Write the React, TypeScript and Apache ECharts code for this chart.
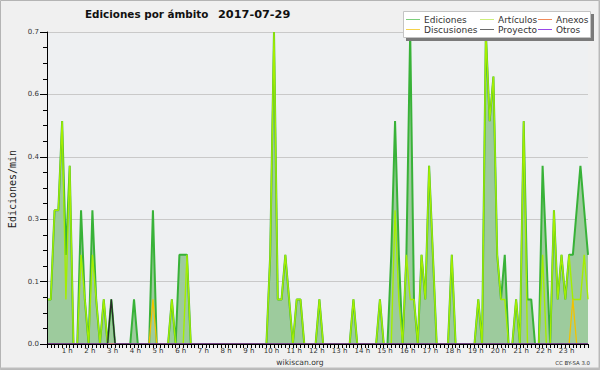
import React, { useEffect, useRef } from "react";
import * as echarts from "echarts";

// 10-minute bins, 00:00 .. 23:50
const times: string[] = Array.from({ length: 144 }, (_, i) =>
  `${String(Math.floor(i / 6)).padStart(2, "0")}:${String((i % 6) * 10).padStart(2, "0")}`
);

const yTicks = [0, 0.14, 0.28, 0.42, 0.56, 0.7];

// Ediciones/min per 10-minute bin (one row = 4 hours)
const ediciones = [
  0.1, 0.1, 0.3, 0.3, 0.5, 0.2, 0.4, 0, 0, 0.3, 0.1, 0, 0.3, 0.1, 0, 0.1, 0, 0.1, 0, 0, 0, 0, 0, 0.1,
  0, 0, 0, 0, 0.3, 0, 0, 0, 0, 0.1, 0, 0.2, 0.2, 0.2, 0, 0, 0, 0, 0, 0, 0, 0, 0, 0,
  0, 0, 0, 0, 0, 0, 0, 0, 0, 0, 0, 0.2, 0.7, 0.1, 0.1, 0.2, 0.1, 0, 0.1, 0.1, 0, 0, 0, 0,
  0.1, 0, 0, 0, 0, 0, 0, 0, 0, 0.1, 0, 0, 0, 0, 0, 0, 0.1, 0, 0, 0.2, 0.5, 0.2, 0, 0.2,
  0.7, 0.1, 0, 0.2, 0.1, 0.4, 0.2, 0, 0, 0, 0, 0.2, 0, 0, 0, 0, 0, 0, 0.1, 0, 0.7, 0.5, 0.6, 0.2,
  0.1, 0.2, 0, 0, 0.1, 0, 0.5, 0.1, 0.1, 0, 0, 0.4, 0.2, 0, 0.3, 0.1, 0.2, 0.1, 0.2, 0.2, 0.3, 0.4, 0.3, 0.2,
];

const articulos = [
  0.1, 0.1, 0.3, 0.3, 0.5, 0.1, 0.4, 0, 0, 0.2, 0.1, 0, 0.2, 0.1, 0, 0.1, 0, 0, 0, 0, 0, 0, 0, 0,
  0, 0, 0, 0, 0, 0, 0, 0, 0, 0.1, 0, 0, 0, 0.2, 0, 0, 0, 0, 0, 0, 0, 0, 0, 0,
  0, 0, 0, 0, 0, 0, 0, 0, 0, 0, 0, 0.2, 0.7, 0.1, 0.1, 0.2, 0.1, 0, 0.1, 0.1, 0, 0, 0, 0,
  0.1, 0, 0, 0, 0, 0, 0, 0, 0, 0.1, 0, 0, 0, 0, 0, 0, 0.1, 0, 0, 0, 0.3, 0.1, 0, 0.2,
  0.1, 0.1, 0, 0.2, 0.1, 0.4, 0.2, 0, 0, 0, 0, 0.2, 0, 0, 0, 0, 0, 0, 0.1, 0, 0.7, 0.5, 0.6, 0.2,
  0.1, 0.1, 0, 0, 0.1, 0, 0.5, 0, 0, 0, 0, 0.2, 0, 0, 0.3, 0.1, 0.2, 0.1, 0.2, 0.1, 0.1, 0.1, 0.2, 0.1,
];

const discusiones = [
  0, 0, 0, 0, 0, 0, 0, 0, 0, 0, 0, 0, 0, 0, 0, 0, 0, 0, 0, 0, 0, 0, 0, 0,
  0, 0, 0, 0, 0.1, 0, 0, 0, 0, 0, 0, 0, 0, 0, 0, 0, 0, 0, 0, 0, 0, 0, 0, 0,
  0, 0, 0, 0, 0, 0, 0, 0, 0, 0, 0, 0, 0, 0, 0, 0, 0, 0, 0, 0, 0, 0, 0, 0,
  0, 0, 0, 0, 0, 0, 0, 0, 0, 0, 0, 0, 0, 0, 0, 0, 0, 0, 0, 0, 0, 0, 0, 0,
  0, 0, 0, 0, 0, 0, 0, 0, 0, 0, 0, 0, 0, 0, 0, 0, 0, 0, 0, 0, 0, 0, 0, 0,
  0, 0, 0, 0, 0, 0, 0, 0, 0, 0, 0, 0, 0, 0, 0, 0, 0, 0, 0, 0.1, 0, 0, 0, 0,
];

const proyecto = [
  0, 0, 0, 0, 0, 0, 0, 0, 0, 0, 0, 0, 0, 0, 0, 0, 0, 0.1, 0, 0, 0, 0, 0, 0,
  0, 0, 0, 0, 0, 0, 0, 0, 0, 0, 0, 0, 0, 0, 0, 0, 0, 0, 0, 0, 0, 0, 0, 0,
  0, 0, 0, 0, 0, 0, 0, 0, 0, 0, 0, 0, 0, 0, 0, 0, 0, 0, 0, 0, 0, 0, 0, 0,
  0, 0, 0, 0, 0, 0, 0, 0, 0, 0, 0, 0, 0, 0, 0, 0, 0, 0, 0, 0, 0, 0, 0, 0,
  0, 0, 0, 0, 0, 0, 0, 0, 0, 0, 0, 0, 0, 0, 0, 0, 0, 0, 0, 0, 0, 0, 0, 0,
  0, 0, 0, 0, 0, 0, 0, 0, 0, 0, 0, 0, 0, 0, 0, 0, 0, 0, 0, 0, 0, 0, 0, 0,
];

const anexos = [
  0, 0, 0, 0, 0, 0, 0, 0, 0, 0, 0, 0, 0, 0, 0, 0, 0, 0, 0, 0, 0, 0, 0, 0,
  0, 0, 0, 0, 0, 0, 0, 0, 0, 0, 0, 0, 0, 0, 0, 0, 0, 0, 0, 0, 0, 0, 0, 0,
  0, 0, 0, 0, 0, 0, 0, 0, 0, 0, 0, 0, 0, 0, 0, 0, 0, 0, 0, 0, 0, 0, 0, 0,
  0, 0, 0, 0, 0, 0, 0, 0, 0, 0, 0, 0, 0, 0, 0, 0, 0, 0, 0, 0, 0, 0, 0, 0,
  0, 0, 0, 0, 0, 0, 0, 0, 0, 0, 0, 0, 0, 0, 0, 0, 0, 0, 0, 0, 0, 0, 0, 0,
  0, 0, 0, 0, 0, 0, 0, 0, 0, 0, 0, 0, 0, 0, 0, 0, 0, 0, 0, 0, 0, 0, 0, 0,
];

const otros = [
  0, 0, 0, 0, 0, 0, 0, 0, 0, 0, 0, 0, 0, 0, 0, 0, 0, 0, 0, 0, 0, 0, 0, 0,
  0, 0, 0, 0, 0, 0, 0, 0, 0, 0, 0, 0, 0, 0, 0, 0, 0, 0, 0, 0, 0, 0, 0, 0,
  0, 0, 0, 0, 0, 0, 0, 0, 0, 0, 0, 0, 0, 0, 0, 0, 0, 0, 0, 0, 0, 0, 0, 0,
  0, 0, 0, 0, 0, 0, 0, 0, 0, 0, 0, 0, 0, 0, 0, 0, 0, 0, 0, 0, 0, 0, 0, 0,
  0, 0, 0, 0, 0, 0, 0, 0, 0, 0, 0, 0, 0, 0, 0, 0, 0, 0, 0, 0, 0, 0, 0, 0,
  0, 0, 0, 0, 0, 0, 0, 0, 0, 0, 0, 0, 0, 0, 0, 0, 0, 0, 0, 0, 0, 0, 0, 0,
];

const legendItems = [
  { name: "Ediciones", color: "#7ccf7c", col: 0, row: 0 },
  { name: "Artículos", color: "#cdef7a", col: 1, row: 0 },
  { name: "Anexos", color: "#f08a5a", col: 2, row: 0 },
  { name: "Discusiones", color: "#f5d24a", col: 0, row: 1 },
  { name: "Proyecto", color: "#6a6a6a", col: 1, row: 1 },
  { name: "Otros", color: "#9a48e8", col: 2, row: 1 },
];

const FONT = '"DejaVu Sans", sans-serif';
const TOP = 100;

export default function App() {
  const ref = useRef<HTMLDivElement>(null);

  useEffect(() => {
    if (!ref.current) return;
    const chart = echarts.init(ref.current, undefined, { renderer: "svg" });

    const colX = [406, 480, 538];
    const rowY = [19.5, 29.5];
    const legendEls: any[] = [
      { type: "rect", z: TOP, shape: { x: 406, y: 14, width: 188, height: 27 }, style: { fill: "#7a7a7a" } },
      {
        type: "rect",
        z: TOP + 1,
        shape: { x: 403.5, y: 11.5, width: 187, height: 26 },
        style: { fill: "#ffffff", stroke: "#c4c4c4", lineWidth: 1 },
      },
    ];
    legendItems.forEach((it) => {
      const x = colX[it.col];
      const y = rowY[it.row];
      legendEls.push({
        type: "line",
        z: TOP + 2,
        shape: { x1: x, y1: y, x2: x + 14, y2: y },
        style: { stroke: it.color, lineWidth: 1 },
      });
      legendEls.push({
        type: "text",
        z: TOP + 2,
        x: x + 18,
        y: y,
        style: { text: it.name, font: `9px ${FONT}`, fill: "#333", align: "left", verticalAlign: "middle" },
      });
    });

    const lineSeries = (name: string, data: number[], color: string, width: number, extra: any = {}) => ({
      name,
      type: "line",
      data,
      symbol: "none",
      xAxisIndex: 0,
      yAxisIndex: 0,
      lineStyle: { color, width },
      itemStyle: { color },
      ...extra,
    });

    chart.setOption({
      animation: false,
      backgroundColor: "#f0f0f0",
      grid: {
        left: 47,
        right: 12,
        top: 32,
        bottom: 26,
        show: true,
        backgroundColor: "#eef0f2",
        borderWidth: 0,
      },
      xAxis: {
        type: "category",
        data: times,
        boundaryGap: false,
        z: 10,
        axisLine: { show: true, lineStyle: { color: "#000", width: 1 } },
        axisTick: { show: true, interval: 0, length: 4, lineStyle: { color: "#000" } },
        axisLabel: {
          interval: (i: number) => i % 6 === 0 && i > 0,
          formatter: (v: string) => `${parseInt(v.slice(0, 2), 10)} h`,
          fontSize: 7,
          fontFamily: FONT,
          color: "#333",
          margin: 3,
          padding: [0, 5, 0, 0],
        },
        splitLine: { show: false },
      },
      yAxis: [
        {
          type: "value",
          position: "left",
          min: yTicks[0],
          max: yTicks[yTicks.length - 1],
          interval: yTicks[1],
          axisLine: { show: false },
          axisTick: { show: false },
          axisLabel: { show: false },
          splitLine: { show: true, lineStyle: { color: "#c9c9c9", width: 1 } },
        },
        {
          type: "value",
          position: "left",
          min: yTicks[0],
          max: yTicks[yTicks.length - 1],
          interval: yTicks[1],
          z: 10,
          axisLine: { show: true, lineStyle: { color: "#000", width: 1 } },
          axisTick: { show: true, length: 7, lineStyle: { color: "#000" } },
          minorTick: { show: true, splitNumber: 4, length: 4, lineStyle: { color: "#000" } },
          axisLabel: {
            formatter: (v: number) => v.toFixed(1),
            fontSize: 7,
            fontFamily: FONT,
            color: "#333",
            margin: 8,
          },
          splitLine: { show: false },
        },
      ],
      series: [
        lineSeries("Ediciones", ediciones, "#38b238", 2, {
          areaStyle: { color: "#9dcb9d", opacity: 1 },
        }),
        lineSeries("Artículos", articulos, "#a4ee00", 1.4),
        lineSeries("Discusiones", discusiones, "#f2c200", 1.3),
        lineSeries("Anexos", anexos, "#f07040", 1),
        lineSeries("Proyecto", proyecto, "#2a2a2a", 1.3),
        lineSeries("Otros", otros, "#9040e0", 1),
      ],
      graphic: [
        {
          type: "rect",
          z: TOP,
          shape: { x: 0.5, y: 0.5, width: 599, height: 369 },
          style: { fill: "none", stroke: "#b4b4b4", lineWidth: 1 },
        },
        {
          type: "line",
          z: TOP,
          shape: { x1: 0, y1: 368.5, x2: 600, y2: 368.5 },
          style: { stroke: "#bdbdbd", lineWidth: 2 },
        },
        {
          type: "line",
          z: TOP,
          shape: { x1: 599, y1: 0, x2: 599, y2: 370 },
          style: { stroke: "#bdbdbd", lineWidth: 1 },
        },
        {
          type: "text",
          z: TOP,
          x: 85,
          y: 14,
          style: {
            text: "Ediciones por ámbito",
            font: `bold 10.4px ${FONT}`,
            fill: "#111",
            align: "left",
            verticalAlign: "middle",
          },
        },
        {
          type: "text",
          z: TOP,
          x: 218,
          y: 14,
          style: {
            text: "2017-07-29",
            font: `bold 11.3px ${FONT}`,
            fill: "#111",
            align: "left",
            verticalAlign: "middle",
          },
        },
        {
          type: "text",
          z: TOP,
          x: 12,
          y: 189,
          rotation: Math.PI / 2,
          style: {
            text: "Ediciones/min",
            font: '10px "DejaVu Sans Mono", monospace',
            fill: "#222",
            align: "center",
            verticalAlign: "middle",
          },
        },
        {
          type: "text",
          z: TOP,
          x: 300,
          y: 362,
          style: { text: "wikiscan.org", font: `7.6px ${FONT}`, fill: "#333", align: "center", verticalAlign: "middle" },
        },
        {
          type: "text",
          z: TOP,
          x: 590,
          y: 363,
          style: { text: "CC BY-SA 3.0", font: `5.4px ${FONT}`, fill: "#333", align: "right", verticalAlign: "middle" },
        },
        ...legendEls,
      ],
    });

    return () => chart.dispose();
  }, []);

  return (
    <div
      ref={ref}
      style={{ position: "fixed", left: 0, top: 0, width: 600, height: 370 }}
    />
  );
}
